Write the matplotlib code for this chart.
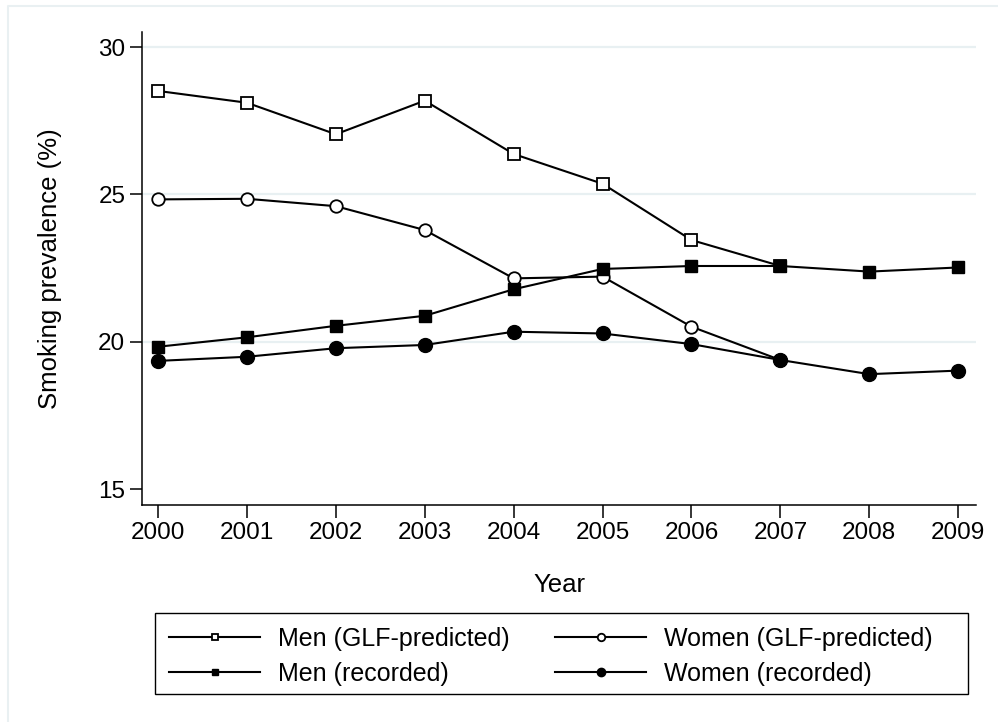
import matplotlib
matplotlib.use('Agg')
import matplotlib.pyplot as plt
from matplotlib.patches import Rectangle
from matplotlib.lines import Line2D

# smoking prevalence (%) by year
years = [2000, 2001, 2002, 2003, 2004, 2005, 2006, 2007, 2008, 2009]
glf_years = [2000, 2001, 2002, 2003, 2004, 2005, 2006, 2007]
men_glf = [28.51, 28.11, 27.04, 28.18, 26.37, 25.36, 23.45, 22.57]
women_glf = [24.83, 24.85, 24.60, 23.79, 22.15, 22.21, 20.51, 19.38]
men_rec = [19.83, 20.15, 20.54, 20.88, 21.78, 22.47, 22.57, 22.57, 22.38, 22.52]
women_rec = [19.35, 19.49, 19.78, 19.89, 20.34, 20.28, 19.92, 19.38, 18.90, 19.02]
y_ticks = [15, 20, 25, 30]

plt.rcParams['font.family'] = ['Liberation Sans', 'DejaVu Sans']

W, H = 998, 722
fig = plt.figure(figsize=(W / 100, H / 100), dpi=100)

# faint graph-region border (top and left edges visible)
fig.lines.append(Line2D([8 / W, 8 / W, 1.0], [0.0, 1 - 6 / H, 1 - 6 / H],
                        transform=fig.transFigure, color='#e9f0f2', lw=1.5))

ax = fig.add_axes([142 / W, 1 - 505 / H, (976 - 142) / W, (505 - 32) / H])

for yt in y_ticks[1:]:
    ax.axhline(yt, color='#e8f0f2', lw=1.6, zorder=0)

ax.plot(glf_years, men_glf, color='black', lw=1.5, marker='s', ms=8,
        mfc='white', mec='black', mew=1.3, label='Men (GLF-predicted)')
ax.plot(glf_years, women_glf, color='black', lw=1.5, marker='o', ms=9,
        mfc='white', mec='black', mew=1.3, label='Women (GLF-predicted)')
ax.plot(years, men_rec, color='black', lw=1.5, marker='s', ms=8,
        mfc='black', mec='black', label='Men (recorded)')
ax.plot(years, women_rec, color='black', lw=1.5, marker='o', ms=10,
        mfc='black', mec='black', label='Women (recorded)')

ax.set_xlim(1999.82, 2009.2)
ax.set_ylim(14.46, 30.51)
ax.set_xticks(years)
ax.set_yticks(y_ticks)
ax.tick_params(labelsize=17.5, length=9, width=1.1, direction='out', pad=3)
for side in ['top', 'right']:
    ax.spines[side].set_visible(False)
for side in ['left', 'bottom']:
    ax.spines[side].set_linewidth(1.1)

ax.set_xlabel('Year', fontsize=18.5, labelpad=21)
ax.set_ylabel('Smoking prevalence (%)', fontsize=18.5, labelpad=26)

# legend box drawn by hand, Stata style
fig.patches.append(Rectangle((155 / W, 1 - 694 / H), (968 - 155) / W, (694 - 613) / H,
                             transform=fig.transFigure, fill=False,
                             edgecolor='black', lw=1.0))

h, l = ax.get_legend_handles_labels()
order = [0, 2, 1, 3]
leg = fig.legend([h[i] for i in order], [l[i] for i in order], ncol=2,
                 loc='upper left', bbox_to_anchor=(169 / W, 1 - 627 / H),
                 borderaxespad=0, borderpad=0, fontsize=18, frameon=False,
                 handlelength=3.64, handletextpad=0.7, columnspacing=1.85,
                 labelspacing=0.43, markerscale=0.6)

fig.savefig('out.png', dpi=100)
